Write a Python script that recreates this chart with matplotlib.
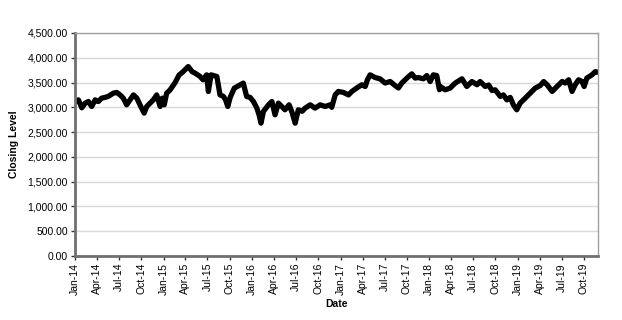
import matplotlib
matplotlib.use("Agg")
import matplotlib.pyplot as plt
import matplotlib.dates as mdates
import matplotlib.ticker as mticker
import pandas as pd

plt.rcParams["font.family"] = ["Liberation Sans", "DejaVu Sans"]

# closing level
dates = [
    # 2014
    "2014-01-01", "2014-01-15", "2014-01-29", "2014-02-11", "2014-02-25", "2014-03-11",
    "2014-03-25", "2014-04-07", "2014-04-21", "2014-05-05", "2014-05-18", "2014-06-08",
    "2014-06-22", "2014-07-06", "2014-07-19", "2014-08-02", "2014-08-16", "2014-08-30",
    "2014-09-13", "2014-09-26", "2014-10-13", "2014-10-24", "2014-11-06", "2014-11-20",
    "2014-12-04", "2014-12-18", "2014-12-27",
    # 2015
    "2015-01-04", "2015-01-14", "2015-01-28", "2015-02-11", "2015-02-18", "2015-03-06",
    "2015-03-23", "2015-04-13", "2015-04-29", "2015-05-11", "2015-06-01", "2015-06-13",
    "2015-06-28", "2015-07-05", "2015-07-16", "2015-08-09", "2015-08-22", "2015-09-05",
    "2015-09-14", "2015-09-23", "2015-10-03", "2015-10-20", "2015-11-13", "2015-11-26",
    "2015-12-10", "2015-12-24",
    # 2016
    "2016-01-07", "2016-01-21", "2016-01-30", "2016-02-07", "2016-02-17", "2016-03-09",
    "2016-03-23", "2016-04-05", "2016-04-19", "2016-05-09", "2016-05-16", "2016-06-02",
    "2016-06-14", "2016-06-27", "2016-07-10", "2016-07-26", "2016-08-07", "2016-08-28",
    "2016-09-17", "2016-10-08", "2016-10-29", "2016-11-18", "2016-11-25", "2016-12-09",
    "2016-12-22",
    # 2017
    "2017-01-12", "2017-02-02", "2017-02-16", "2017-03-08", "2017-03-29", "2017-04-12",
    "2017-04-21", "2017-05-02", "2017-05-23", "2017-06-12", "2017-07-03", "2017-07-24",
    "2017-08-13", "2017-08-27", "2017-09-10", "2017-10-01", "2017-10-21", "2017-11-04",
    "2017-11-17", "2017-12-08", "2017-12-22",
    # 2018
    "2018-01-05", "2018-01-18", "2018-02-01", "2018-02-12", "2018-02-15", "2018-03-08",
    "2018-03-28", "2018-04-18", "2018-05-16", "2018-06-05", "2018-06-26", "2018-07-17",
    "2018-07-30", "2018-08-20", "2018-09-03", "2018-09-17", "2018-09-30", "2018-10-21",
    "2018-11-03", "2018-11-17", "2018-12-01", "2018-12-14", "2018-12-28",
    # 2019
    "2019-01-11", "2019-02-01", "2019-02-21", "2019-03-14", "2019-04-04", "2019-04-18",
    "2019-05-02", "2019-05-23", "2019-06-12", "2019-07-03", "2019-07-16", "2019-07-30",
    "2019-08-13", "2019-08-26", "2019-09-09", "2019-09-23", "2019-10-02", "2019-10-13",
    "2019-11-03", "2019-11-17", "2019-11-26",
]
closing = [
    # 2014
    3117, 3150, 2990, 3080, 3117, 3017,
    3150, 3117, 3185, 3200, 3220, 3285,
    3300, 3250, 3185, 3050, 3150, 3250,
    3185, 3050, 2883, 3017, 3080, 3150,
    3250, 3017, 3185,
    # 2015
    3050, 3285, 3350, 3450, 3500, 3650,
    3720, 3822, 3720, 3689, 3622, 3555,
    3655, 3318, 3655, 3622, 3252, 3220,
    3150, 3017, 3200, 3387, 3454, 3488,
    3218, 3200,
    # 2016
    3117, 2983, 2850, 2680, 2916, 3050,
    3117, 2849, 3084, 2983, 2950, 3050,
    2900, 2680, 2950, 2920, 2983, 3050,
    2983, 3050, 3017, 3050, 3000, 3250,
    3320,
    # 2017
    3300, 3250, 3320, 3390, 3455, 3420,
    3555, 3655, 3600, 3575, 3490, 3520,
    3440, 3390, 3490, 3590, 3675, 3590,
    3600, 3575, 3640,
    # 2018
    3520, 3655, 3640, 3355, 3420, 3353,
    3387, 3488, 3575, 3420, 3520, 3455,
    3520, 3420, 3450, 3340, 3353, 3220,
    3250, 3150, 3200, 3050, 2950,
    # 2019
    3085, 3185, 3285, 3387, 3440, 3520,
    3455, 3320, 3420, 3520, 3490, 3555,
    3320, 3455, 3555, 3520, 3420, 3590,
    3655, 3720, 3710,
]

x = pd.to_datetime(dates)

fig = plt.figure(figsize=(6.22, 3.2), dpi=100)
ax = fig.add_axes([0.1206, 0.2, 0.8404, 0.697])

ax.plot(x, closing, color="black", linewidth=3.8, solid_joinstyle="round")

ax.set_ylim(0, 4500)
ax.yaxis.set_major_locator(mticker.MultipleLocator(500))
ax.yaxis.set_major_formatter(mticker.StrMethodFormatter("{x:,.2f}"))
ax.grid(axis="y", color="#d9d9d9", linewidth=1)
ax.set_axisbelow(True)

ax.set_xlim(pd.Timestamp("2014-01-01"), pd.Timestamp("2019-11-27"))
ax.xaxis.set_major_locator(mdates.MonthLocator(bymonth=[1, 4, 7, 10]))
ax.xaxis.set_major_formatter(mdates.DateFormatter("%b-%y"))
for lab in ax.get_xticklabels():
    lab.set_rotation(90)

ax.tick_params(axis="both", labelsize=7.5, colors="#333333", length=3, width=1)
ax.tick_params(axis="x", labelcolor="black", pad=2)
ax.tick_params(axis="y", labelcolor="black", pad=2)

for side in ["left", "bottom"]:
    ax.spines[side].set_color("#707070")
    ax.spines[side].set_linewidth(2)
for side in ["top", "right"]:
    ax.spines[side].set_color("#a0a0a0")
    ax.spines[side].set_linewidth(1)

ax.set_xlabel("Date", fontsize=7.5, fontweight="bold", labelpad=3)
ax.set_ylabel("Closing Level", fontsize=7.5, fontweight="bold", labelpad=6)

fig.savefig("out.png", dpi=100)
